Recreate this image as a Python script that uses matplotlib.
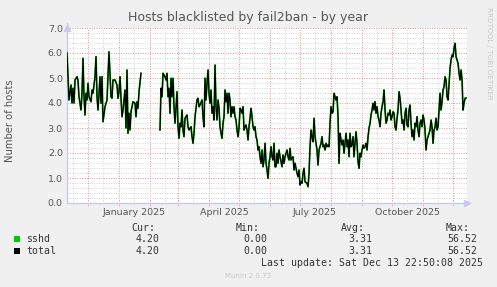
import numpy as np
import pandas as pd
import matplotlib
matplotlib.use('Agg')
import matplotlib.pyplot as plt
import matplotlib.dates as mdates
from matplotlib.ticker import MultipleLocator, NullFormatter, FormatStrFormatter
from matplotlib.transforms import blended_transform_factory
from matplotlib.patches import Rectangle

# ---------------- data ----------------
start_date = '2024-11-10'
end_date = '2025-12-14 22:50'

day_offsets = [
    0, 1, 2, 4, 5, 6, 7, 8, 10, 11, 12, 14, 15, 16, 17, 18, 19, 20, 21, 22, 24, 25, 26, 28, 29,
    30, 31, 33, 34, 35, 36, 38, 40, 41, 42, 44, 45, 46, 48, 50, 51, 52, 53, 54, 55, 56, 58, 59,
    60, 61, 62, 63, 64, 65, 66, 68, 69, 70, 71, 72, 74, 75, 92,
    93, 94, 95, 96, 98, 99, 100, 101, 102, 103, 104, 105, 106, 107, 108, 110, 111, 112, 113,
    114, 115, 116, 117, 118, 120, 121, 122, 123, 124, 125, 126, 127, 128, 130, 131, 132,
    133, 135, 136, 137, 138, 139, 140, 141, 142, 143, 144, 145, 146, 147, 148, 149, 150, 151,
    152, 153, 154, 155, 156, 157, 158, 159, 160, 161, 162, 163, 164, 165, 166, 167, 168, 169,
    170, 171, 172, 173, 174, 175, 176, 177, 178, 179, 180, 181, 182, 183, 184, 185, 186, 187,
    188, 189, 190, 191, 192, 193, 194, 195, 196, 197, 198, 199, 200, 201, 202, 203, 204, 205,
    206, 207, 208,
    209, 210, 211, 212, 213, 214, 215, 216, 217, 218, 219, 220, 221, 222, 223, 224, 226, 227,
    228, 230, 231, 232, 233, 234, 235, 236, 237, 238, 240, 241, 242, 243, 244, 245, 246, 247,
    248, 249, 250, 251, 252, 253, 254, 255, 256, 257, 258, 259, 260, 261, 262, 263, 264, 265,
    266, 267, 268, 269, 270, 271, 272, 273, 274, 275, 276, 277, 278,
    279, 280, 281, 282, 283, 284, 285, 286, 287, 288, 289, 290, 291, 292, 293, 294, 295, 296,
    297, 298, 299, 300, 301, 302, 303, 304, 305, 306, 307, 308, 309, 310, 311, 312, 313, 314,
    315, 316, 317, 318, 319, 320, 321, 322, 323, 324, 325, 326, 327, 328, 329, 330, 331, 332,
    333, 334, 335, 336, 337, 338, 339, 340, 341, 342, 343, 344, 345, 346, 347, 348,
    349, 350, 351, 352, 353, 354, 355, 356, 357, 358, 359, 360, 361, 362, 363, 364, 365, 366,
    367, 368, 369, 370, 371, 372, 373, 374, 375, 376, 377, 378, 379, 380, 381, 382, 383, 384,
    385, 386, 387, 388, 389, 390, 391, 392, 393, 394, 395, 396, 397, 398, 399,
]

hosts = [
    6.0, 5.05, 4.12, 4.72, 4.0, 4.59, 4.0, 4.92, 5.05, 4.92, 4.25, 3.72, 4.39, 5.79, 4.25, 3.52,
    4.39, 4.12, 4.79, 4.25, 4.05, 4.52, 4.39, 5.05, 5.85,
    4.25, 3.72, 5.05, 3.99, 5.05, 3.25, 3.85, 4.12, 5.05, 6.05, 4.25, 4.19, 4.92, 4.92, 4.72,
    4.19, 4.45, 5.05, 4.19, 3.45, 3.72, 4.52, 3.0,
    5.32, 2.79, 3.59, 2.92, 3.65, 3.85, 4.05, 3.99, 3.45, 4.05, 3.79, 4.45, 5.19, np.nan, np.nan,
    2.92, 4.59, 4.25, 5.19, 5.05, 4.92, 5.19, 4.25, 4.59, 3.59, 4.99, 4.25, 4.99, 3.85, 3.19,
    4.45, 3.05, 2.59, 3.19,
    3.05, 3.72, 2.92, 2.65, 3.39, 3.52, 3.05, 2.92, 2.99, 3.05, 2.65, 2.39, 2.79, 3.45, 4.12,
    4.19, 3.85,
    3.92, 4.12, 3.45, 3.05, 4.99, 4.12, 4.79, 5.32, 4.39, 3.99, 4.52, 3.59, 3.85, 3.32, 5.52,
    3.85, 3.32, 4.12,
    3.79, 3.05, 2.79, 2.59, 3.19, 3.45, 4.52, 4.05, 4.39, 3.59, 4.39, 4.12, 3.45, 3.85, 3.59,
    3.85, 3.45, 3.32,
    2.92, 2.65, 2.99, 3.79, 3.72, 3.59, 3.85, 2.92, 3.05, 3.12, 2.92, 2.52, 3.05, 3.39, 3.79,
    3.45, 3.05, 2.92,
    3.05, 2.65, 2.52, 2.12, 2.25, 1.85, 1.59, 2.12, 1.45, 1.72, 2.39, 1.59, 1.32, 0.99, 1.59,
    1.85, 2.25, 1.85,
    1.72, 2.39, 1.45,
    1.45, 1.99, 1.59, 2.12, 1.85, 1.65, 1.45, 1.92, 1.59, 1.85, 1.99, 2.12, 1.85, 1.72, 2.19,
    1.72, 1.85, 1.32,
    1.59, 1.19, 1.05, 1.32, 0.72, 0.85, 0.79, 1.19, 1.39, 0.85, 0.79, 0.65, 1.19, 2.25, 2.92,
    2.65, 2.45, 3.39,
    2.65, 2.39, 2.12, 1.52, 2.12, 2.25, 2.39, 2.65, 2.25, 2.32, 2.12, 2.39, 2.25, 2.32, 2.25,
    3.19, 3.85, 3.59,
    3.65, 4.39, 4.25, 4.12, 4.25, 3.45, 1.59, 2.79, 2.52, 2.32, 2.52, 1.99, 2.39,
    2.79, 2.25, 2.52, 1.85, 2.79, 2.25, 2.32, 2.65, 1.85, 2.39, 2.85, 2.39, 1.65, 1.39, 1.99,
    1.85, 2.12, 2.32,
    2.19, 2.25, 2.39, 2.12, 2.65, 2.99, 3.19, 3.52, 3.72, 3.99, 3.72, 4.05, 3.59, 3.85, 3.45,
    3.32, 3.05, 3.59,
    3.85, 4.05, 4.52, 3.72, 3.19, 3.32, 3.59, 3.52, 3.72, 3.32, 3.45, 3.65, 3.59, 3.05, 2.92,
    3.39, 3.72, 4.45,
    4.19, 3.72, 3.19, 3.32, 2.92, 3.59, 3.79, 3.12, 3.05, 3.72, 3.92, 3.19, 2.65, 2.92, 2.52,
    3.19,
    3.05, 3.45, 2.92, 2.65, 3.19, 3.32, 3.05, 3.52, 3.32, 2.92, 2.12, 2.52, 2.65, 2.79, 2.92,
    3.32, 3.05, 2.39,
    2.92, 3.05, 3.39, 2.92, 3.05, 3.72, 4.39, 3.72, 4.05, 4.52, 4.65, 5.05, 4.92, 4.25, 4.12,
    4.79, 5.39, 5.72,
    5.92, 5.85, 6.19, 6.39, 5.85, 5.72, 5.59, 5.19, 4.92, 5.32, 4.92, 3.72, 3.99, 4.19, 4.20,
]

series_names = ['sshd', 'total']
series_colors = ['#00CC00', '#000000']
cur_values = ['4.20', '4.20']
min_values = ['0.00', '0.00']
avg_values = ['3.31', '3.31']
max_values = ['56.52', '56.52']

month_labels = ['January 2025', 'April 2025', 'July 2025', 'October 2025']
month_label_dates = ['2025-01-16', '2025-04-16', '2025-07-16', '2025-10-16']

title = 'Hosts blacklisted by fail2ban - by year'
y_label = 'Number of hosts'
last_update = 'Last update: Sat Dec 13 22:50:08 2025'
credit = 'Munin 2.0.73'
side_text = 'RRDTOOL / TOBI OETIKER'

# ---------------- figure ----------------
W, H = 497, 287
fig = plt.figure(figsize=(W / 100, H / 100), dpi=100, facecolor='#F0F0F0')
ax = fig.add_axes([67 / W, 1 - 203 / H, 400 / W, 175 / H])
ax.set_facecolor('#FFFFFF')

dates = pd.Timestamp(start_date) + pd.to_timedelta(day_offsets, unit='D')
ax.plot(dates, hosts, color=series_colors[0], lw=1.3, zorder=3)
ax.plot(dates, hosts, color=series_colors[1], lw=0.9, zorder=4)

ax.set_xlim(pd.Timestamp(start_date), pd.Timestamp(end_date))
ax.set_ylim(0, 7)

ax.xaxis.set_major_locator(mdates.MonthLocator())
ax.xaxis.set_minor_locator(mdates.MonthLocator(bymonthday=16))
ax.xaxis.set_major_formatter(NullFormatter())
ax.xaxis.set_minor_formatter(NullFormatter())
ax.yaxis.set_major_locator(MultipleLocator(1.0))
ax.yaxis.set_minor_locator(MultipleLocator(0.2))
ax.yaxis.set_major_formatter(FormatStrFormatter('%.1f'))

ax.grid(which='minor', color='#D4D4D4', linestyle=(0, (1, 1.5)), lw=0.7)
ax.grid(which='major', color='#F09090', linestyle=(0, (1, 1.5)), lw=0.7)
ax.set_axisbelow(True)

axis_col = '#C8C8F0'
for s in ['top', 'right']:
    ax.spines[s].set_visible(False)
for s in ['left', 'bottom']:
    ax.spines[s].set_color(axis_col)
    ax.spines[s].set_linewidth(1.0)
ax.tick_params(which='both', length=2, color=axis_col, width=0.8)
ax.tick_params(which='minor', length=0)
ax.tick_params(axis='y', which='major', labelsize=6.8, labelcolor='#555555', pad=3)
ax.tick_params(axis='y', which='major', length=0)

# axis arrows
ax.plot([1.0], [0.0], marker='>', color=axis_col, ms=4, transform=ax.transAxes, clip_on=False)
ax.plot([0.0], [1.0], marker='^', color=axis_col, ms=4, transform=ax.transAxes, clip_on=False)
ax.plot([1.0, 1.008], [0, 0], color=axis_col, lw=1, transform=ax.transAxes, clip_on=False)
ax.plot([0, 0], [1.0, 1.03], color=axis_col, lw=1, transform=ax.transAxes, clip_on=False)

trans = blended_transform_factory(ax.transData, ax.transAxes)
for lab, d in zip(month_labels, month_label_dates):
    ax.text(pd.Timestamp(d), -0.052, lab, transform=trans, ha='center', va='center',
            fontsize=6.8, color='#555555')

fig.text(248 / W, 1 - 18 / H, title, ha='center', va='center', fontsize=9.0, color='#555555')
fig.text(10 / W, 1 - 121 / H, y_label, ha='center', va='center', rotation=90,
         fontsize=7.2, color='#555555')
fig.text(489 / W, 1 - 53 / H, side_text, ha='center', va='center', rotation=270,
         fontsize=5.2, color='#C8C8C8')

mono = 'DejaVu Sans Mono'
fs = 7.1
tc = '#333333'
hy = 1 - 228 / H
for txt, xr in zip(['Cur:', 'Min:', 'Avg:', 'Max:'], [155, 260, 365, 470]):
    fig.text(xr / W, hy, txt, ha='right', va='center', family=mono, fontsize=fs, color=tc)

row_y = [239, 251]
for i, name in enumerate(series_names):
    yy = 1 - row_y[i] / H
    fig.patches.append(Rectangle((14 / W, 1 - (row_y[i] + 3) / H), 6 / W, 6 / H,
                                 transform=fig.transFigure, facecolor=series_colors[i],
                                 edgecolor='none'))
    fig.text(26 / W, yy, name, ha='left', va='center', family=mono, fontsize=fs, color=tc)
    for val, xr in zip([cur_values[i], min_values[i], avg_values[i], max_values[i]],
                       [160, 267, 372, 477]):
        fig.text(xr / W, yy, val, ha='right', va='center', family=mono, fontsize=fs, color=tc)

fig.text(483 / W, 1 - 263 / H, last_update, ha='right', va='center', family=mono,
         fontsize=fs, color=tc)
fig.text(248 / W, 1 - 276 / H, credit, ha='center', va='center', fontsize=5.0, color='#C8C8C8')

fig.savefig('out.png', dpi=100, facecolor=fig.get_facecolor())
